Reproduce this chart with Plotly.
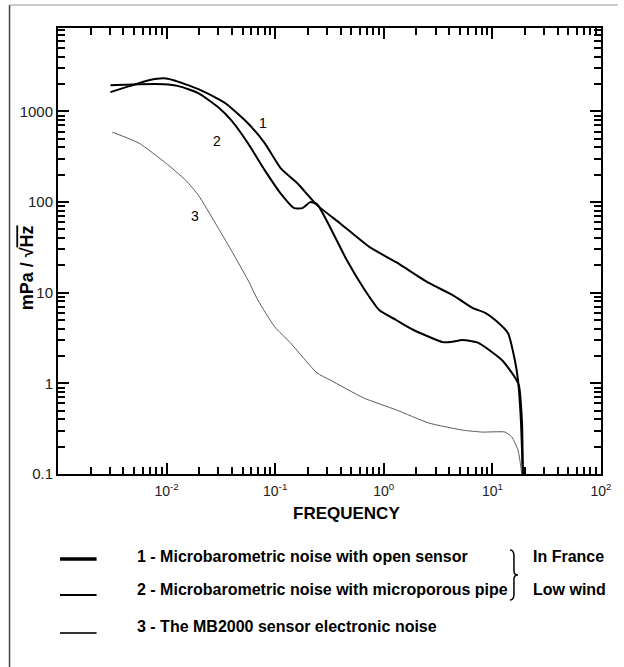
import plotly.graph_objects as go

# ---------------- data ----------------
freq_open = [0.00304, 0.00453, 0.00689, 0.00944, 0.0116, 0.0196, 0.0312, 0.0368, 0.0561, 0.080,
             0.112, 0.160, 0.243, 0.394, 0.740, 1.30, 2.60, 4.31, 6.55, 8.59, 10.6, 13.9, 16.1,
             17.2, 18.3, 19.1]
amp_open = [1630, 1900, 2210, 2320, 2210, 1760, 1330, 1170, 740, 446,
            237, 161, 92.5, 58.5, 31.8, 21.7, 12.8, 9.4, 6.8, 6.0, 5.0, 3.6, 1.8,
            1.09, 0.39, 0.09]

freq_pipe = [0.00304, 0.00558, 0.00944, 0.0129, 0.0196, 0.0299, 0.0393, 0.0561, 0.080, 0.112,
             0.150, 0.178, 0.210, 0.243, 0.320, 0.456, 0.652, 0.912, 1.30, 1.86, 3.49, 4.13,
             5.31, 7.43, 12.3, 16.1, 17.5, 18.7, 19.1]
amp_pipe = [1945, 1995, 1995, 1900, 1590, 1110, 800, 446, 225, 125,
            85.7, 85.7, 99.8, 94.8, 52.8, 22.9, 11.2, 6.4, 5.0, 3.9, 2.85, 2.85,
            3.0, 2.8, 1.8, 1.17, 0.96, 0.39, 0.09]

freq_elec = [0.00317, 0.00558, 0.00984, 0.0150, 0.0196, 0.0281, 0.0393, 0.0561, 0.0692, 0.0989,
             0.138, 0.243, 0.320, 0.652, 1.30, 2.60, 5.31, 8.07, 13.1, 15.1, 17.2, 18.3, 18.7]
amp_elec = [590, 446, 269, 174, 119, 58.5, 29.5, 13.8, 8.3, 4.2,
            2.8, 1.3, 1.09, 0.69, 0.51, 0.365, 0.305, 0.29, 0.29, 0.256, 0.184, 0.119, 0.09]

x_tickvals = [0.01, 0.1, 1, 10, 100]
x_ticktext = ["10<sup>-2</sup>", "10<sup>-1</sup>", "10<sup>0</sup>", "10<sup>1</sup>", "10<sup>2</sup>"]
y_tickvals = [0.1, 1, 10, 100, 1000]
y_ticktext = ["0.1", "1", "10", "100", "1000"]

legend_labels = ["1 - Microbarometric noise with open sensor",
                 "2 - Microbarometric noise with microporous pipe",
                 "3 - The MB2000 sensor electronic noise"]
curve_labels = ["1", "2", "3"]
side_labels = ["In France", "Low wind"]

# ---------------- layout helpers ----------------
W, H = 624, 667
ML, MR, MT, MB = 58, 17, 28, 193
PW, PH = W - ML - MR, H - MT - MB


def px(x):
    return (x - ML) / PW


def py(y):
    return (H - MB - y) / PH


FONT = "Liberation Sans, Arial, sans-serif"

fig = go.Figure()
fig.add_trace(go.Scatter(x=freq_open, y=amp_open, mode="lines",
                         line=dict(color="black", width=2, shape="spline", smoothing=0.5),
                         showlegend=False))
fig.add_trace(go.Scatter(x=freq_pipe, y=amp_pipe, mode="lines",
                         line=dict(color="black", width=2, shape="spline", smoothing=0.5),
                         showlegend=False))
fig.add_trace(go.Scatter(x=freq_elec, y=amp_elec, mode="lines",
                         line=dict(color="#5a5a5a", width=1, shape="spline", smoothing=0.5),
                         showlegend=False))

minor_x = [m * 10.0 ** e for e in range(-3, 2) for m in range(2, 10)]
minor_y = [m * 10.0 ** e for e in range(-1, 4) for m in range(2, 10)]

axis_common = dict(type="log", showgrid=False, zeroline=False, showline=True,
                   linecolor="black", linewidth=2, mirror="allticks",
                   ticks="inside", ticklen=11, tickwidth=1.5, tickcolor="black")

fig.update_xaxes(range=[-3, 2], tickmode="array", tickvals=x_tickvals, ticktext=x_ticktext,
                 tickfont=dict(family=FONT, size=14, color="#222222"), ticklabelstandoff=3,
                 minor=dict(tickmode="array", tickvals=minor_x, ticks="inside", ticklen=7,
                            tickwidth=1.5, tickcolor="black", showgrid=False),
                 **axis_common)
fig.update_yaxes(range=[-1, 3.92], tickmode="array", tickvals=y_tickvals, ticktext=y_ticktext,
                 tickfont=dict(family=FONT, size=15, color="#222222"),
                 minor=dict(tickmode="array", tickvals=minor_y, ticks="inside", ticklen=7,
                            tickwidth=1.5, tickcolor="black", showgrid=False),
                 **axis_common)

ann = []
# axis titles
ann.append(dict(x=px(27), y=py(268), xref="paper", yref="paper", textangle=-90,
                xanchor="center", yanchor="middle",
                text="<b>mPa / √<span style='text-decoration:overline'>Hz</span></b>",
                showarrow=False, font=dict(family=FONT, size=18, color="black")))
ann.append(dict(x=px(350), y=py(513), xref="paper", yref="paper", text="<b>FREQUENCY</b>",
                xanchor="center", yanchor="middle",
                showarrow=False, font=dict(family=FONT, size=17, color="black")))
# curve numbers (data coordinates, log10 units)
for lab, (lx, ly) in zip(curve_labels, [(-1.115, 2.870), (-1.534, 2.671), (-1.734, 1.845)]):
    ann.append(dict(x=lx, y=ly, xref="x", yref="y", text=lab, showarrow=False,
                    xanchor="center", yanchor="middle",
                    font=dict(family=FONT, size=14, color="black")))

# legend block
leg_y = [556, 590, 626]
leg_dy = [3, 5, 7]
leg_w = [3.5, 2, 2]
leg_c = ["black", "black", "#333333"]
shapes = []
for lab, yy, dy, w, c in zip(legend_labels, leg_y, leg_dy, leg_w, leg_c):
    shapes.append(dict(type="line", xref="paper", yref="paper", x0=px(60), x1=px(97),
                       y0=py(yy + dy), y1=py(yy + dy), line=dict(color=c, width=w)))
    ann.append(dict(x=px(136), y=py(yy), xref="paper", yref="paper", text="<b>" + lab + "</b>",
                    showarrow=False, xanchor="left", yanchor="middle",
                    font=dict(family=FONT, size=16, color="black")))
for lab, yy in zip(side_labels, leg_y[:2]):
    ann.append(dict(x=px(536), y=py(yy), xref="paper", yref="paper", text="<b>" + lab + "</b>",
                    showarrow=False, xanchor="left", yanchor="middle",
                    font=dict(family=FONT, size=16, color="black")))

# brace
bx, bt, bb = 515, 550, 600
bm = (bt + bb) / 2
path = (f"M {px(bx)},{py(bt)} Q {px(bx+4)},{py(bt)} {px(bx+4)},{py(bt+6)} "
        f"L {px(bx+4)},{py(bm-4)} Q {px(bx+4)},{py(bm)} {px(bx+8)},{py(bm)} "
        f"Q {px(bx+4)},{py(bm)} {px(bx+4)},{py(bm+4)} "
        f"L {px(bx+4)},{py(bb-6)} Q {px(bx+4)},{py(bb)} {px(bx)},{py(bb)}")
shapes.append(dict(type="path", xref="paper", yref="paper", path=path,
                   line=dict(color="black", width=1.5)))

# page frame
shapes.append(dict(type="line", xref="paper", yref="paper", x0=px(9), x1=px(9),
                   y0=py(5), y1=py(667), line=dict(color="#444444", width=1.5)))
shapes.append(dict(type="line", xref="paper", yref="paper", x0=px(9), x1=px(624),
                   y0=py(5), y1=py(5), line=dict(color="#999999", width=1)))

fig.update_layout(width=W, height=H, autosize=False,
                  margin=dict(l=ML, r=MR, t=MT, b=MB),
                  paper_bgcolor="white", plot_bgcolor="white",
                  showlegend=False, annotations=ann, shapes=shapes,
                  font=dict(family=FONT, color="black"))

fig.write_html("out.html")
